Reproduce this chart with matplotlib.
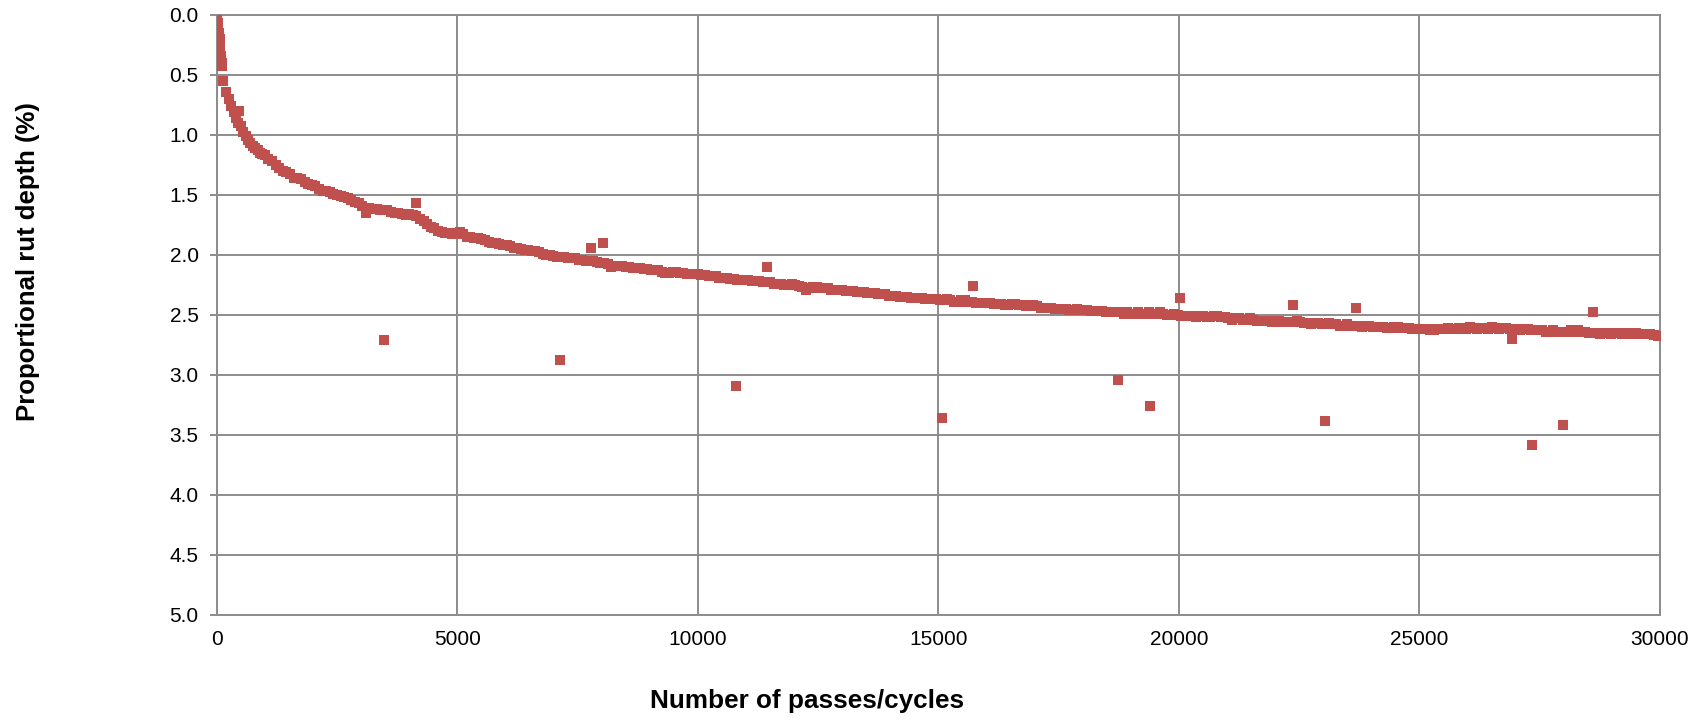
import numpy as np
import matplotlib
matplotlib.use("Agg")
import matplotlib.pyplot as plt

plt.rcParams["font.family"] = ["Liberation Sans", "DejaVu Sans"]

# Early readings (steep initial consolidation)
passes_early = [0, 15, 30, 45, 60, 75, 90, 100, 110, 140, 200, 250, 300, 350,
                400, 450, 500, 550, 600, 650, 700, 750, 800, 850, 900, 950]
depth_early = [0.00, 0.02, 0.07, 0.15, 0.20, 0.27, 0.34, 0.40, 0.43, 0.55, 0.64,
               0.70, 0.76, 0.81, 0.86, 0.90, 0.93, 0.98, 1.01, 1.04, 1.07, 1.09,
               1.11, 1.13, 1.15, 1.16]

# Regular readings every 150 passes from 1000 onwards
passes_main = np.arange(1000, 30001, 150)
depth_main = [
    1.17, 1.22, 1.28, 1.31, 1.36, 1.37, 1.41, 1.43, 1.47, 1.48,
    1.50, 1.52, 1.54, 1.57, 1.65, 1.62, 1.63, 1.63, 1.65, 1.66,
    1.66, 1.68, 1.72, 1.77, 1.80, 1.82, 1.83, 1.81, 1.85, 1.86,
    1.87, 1.89, 1.90, 1.92, 1.93, 1.94, 1.96, 1.97, 1.98, 2.00,
    2.01, 2.02, 2.03, 2.03, 2.04, 2.05, 2.06, 2.07, 2.10, 2.09,
    2.10, 2.11, 2.11, 2.12, 2.13, 2.14, 2.15, 2.14, 2.15, 2.16,
    2.16, 2.17, 2.18, 2.19, 2.19, 2.20, 2.21, 2.21, 2.22, 2.23,
    2.23, 2.24, 2.25, 2.24, 2.26, 2.29, 2.27, 2.28, 2.28, 2.29,
    2.29, 2.30, 2.31, 2.31, 2.32, 2.33, 2.33, 2.34, 2.35, 2.35,
    2.36, 2.36, 2.37, 2.37, 2.38, 2.38, 2.39, 2.38, 2.39, 2.40,
    2.40, 2.41, 2.41, 2.42, 2.41, 2.42, 2.43, 2.43, 2.44, 2.44,
    2.45, 2.45, 2.46, 2.46, 2.46, 2.47, 2.47, 2.48, 2.48, 2.49,
    2.49, 2.48, 2.49, 2.49, 2.48, 2.50, 2.49, 2.51, 2.51, 2.52,
    2.51, 2.52, 2.51, 2.52, 2.54, 2.53, 2.54, 2.54, 2.55, 2.55,
    2.55, 2.56, 2.56, 2.55, 2.57, 2.58, 2.57, 2.58, 2.58, 2.59,
    2.58, 2.59, 2.60, 2.59, 2.60, 2.60, 2.61, 2.60, 2.61, 2.62,
    2.62, 2.62, 2.63, 2.62, 2.61, 2.62, 2.61, 2.60, 2.62, 2.61,
    2.60, 2.62, 2.61, 2.62, 2.63, 2.62, 2.63, 2.63, 2.64, 2.64,
    2.64, 2.63, 2.63, 2.64, 2.65, 2.66, 2.65, 2.65, 2.66, 2.65,
    2.65, 2.66, 2.66, 2.68,
]

# Intermediate readings, 75 passes after each regular one
passes_offset = np.arange(1075, 29876, 150)
depth_offset = [
    1.20, 1.25, 1.30, 1.33, 1.36, 1.39, 1.42, 1.45, 1.47, 1.49,
    1.51, 1.53, 1.56, 1.59, 1.61, 1.62, 1.63, 1.64, 1.65, 1.67,
    1.67, 1.70, 1.74, 1.78, 1.81, 1.82, 1.82, 1.83, 1.85, 1.86,
    1.88, 1.90, 1.91, 1.92, 1.94, 1.95, 1.96, 1.97, 1.99, 2.00,
    2.02, 2.02, 2.03, 2.04, 2.05, 2.05, 2.07, 2.08, 2.09, 2.09,
    2.10, 2.11, 2.12, 2.13, 2.13, 2.15, 2.14, 2.15, 2.16, 2.16,
    2.17, 2.18, 2.18, 2.19, 2.20, 2.21, 2.21, 2.22, 2.22, 2.23,
    2.24, 2.24, 2.25, 2.25, 2.27, 2.28, 2.27, 2.28, 2.29, 2.29,
    2.30, 2.30, 2.31, 2.32, 2.32, 2.33, 2.34, 2.34, 2.35, 2.36,
    2.36, 2.37, 2.37, 2.38, 2.37, 2.39, 2.38, 2.39, 2.40, 2.40,
    2.40, 2.41, 2.42, 2.41, 2.42, 2.43, 2.42, 2.44, 2.44, 2.45,
    2.45, 2.46, 2.45, 2.46, 2.47, 2.47, 2.48, 2.48, 2.48, 2.48,
    2.49, 2.49, 2.48, 2.49, 2.49, 2.50, 2.50, 2.51, 2.51, 2.51,
    2.52, 2.51, 2.52, 2.53, 2.53, 2.54, 2.53, 2.55, 2.55, 2.56,
    2.55, 2.56, 2.56, 2.56, 2.57, 2.57, 2.58, 2.57, 2.58, 2.59,
    2.59, 2.59, 2.59, 2.60, 2.60, 2.61, 2.60, 2.61, 2.61, 2.62,
    2.62, 2.63, 2.62, 2.62, 2.62, 2.61, 2.62, 2.61, 2.61, 2.62,
    2.61, 2.61, 2.62, 2.62, 2.62, 2.63, 2.63, 2.64, 2.63, 2.64,
    2.64, 2.64, 2.64, 2.65, 2.65, 2.65, 2.66, 2.65, 2.65, 2.66,
    2.66, 2.66, 2.67,
]

# Scattered individual readings away from the main trend
passes_scatter = [470, 3478, 4136, 7136, 7780, 8023, 10788, 11432, 15080, 15727,
                  18728, 19400, 20023, 22379, 23037, 23680, 26930, 27333, 27984, 28614]
depth_scatter = [0.80, 2.71, 1.57, 2.88, 1.94, 1.90, 3.09, 2.10, 3.36, 2.26,
                 3.04, 3.26, 2.36, 2.42, 3.38, 2.44, 2.70, 3.58, 3.42, 2.48]

passes = np.concatenate([passes_early, passes_main, passes_offset, passes_scatter])
depth = np.concatenate([depth_early, depth_main, depth_offset, depth_scatter])

x_ticks = [0, 5000, 10000, 15000, 20000, 25000, 30000]
y_ticks = [0.0, 0.5, 1.0, 1.5, 2.0, 2.5, 3.0, 3.5, 4.0, 4.5, 5.0]

fig = plt.figure(figsize=(17.06, 7.21), dpi=100)
ax = fig.add_axes([216.7 / 1706, 1 - 615 / 721, (1660 - 216.7) / 1706, (615 - 14.7) / 721])

grid_col = "#8c8c8c"
ax.scatter(passes, depth, marker="s", s=6.7 ** 2, color="#C0504D", linewidths=0, zorder=3)

ax.set_xlim(0, 30000)
ax.set_ylim(5.0, 0.0)
ax.set_xticks(x_ticks)
ax.set_yticks(y_ticks)
ax.set_yticklabels([f"{v:.1f}" for v in y_ticks])
ax.grid(True, color=grid_col, linewidth=1.4)
ax.set_axisbelow(True)
for side in ["top", "right", "left", "bottom"]:
    ax.spines[side].set_color(grid_col)
    ax.spines[side].set_linewidth(1.4)
ax.tick_params(axis="x", length=0, pad=11, labelsize=15, colors="#000000")
ax.tick_params(axis="y", length=5, width=1.4, color=grid_col, pad=8, labelsize=15,
               labelcolor="#000000")

fig.text(806.7 / 1706, 1 - 701 / 721, "Number of passes/cycles", ha="center", va="center",
         fontsize=18.8, fontweight="bold")
fig.text(28 / 1706, 1 - 261.5 / 721, "Proportional rut depth (%)", ha="center", va="center",
         rotation=90, fontsize=18.5, fontweight="bold")

fig.savefig("out.png", dpi=100)
